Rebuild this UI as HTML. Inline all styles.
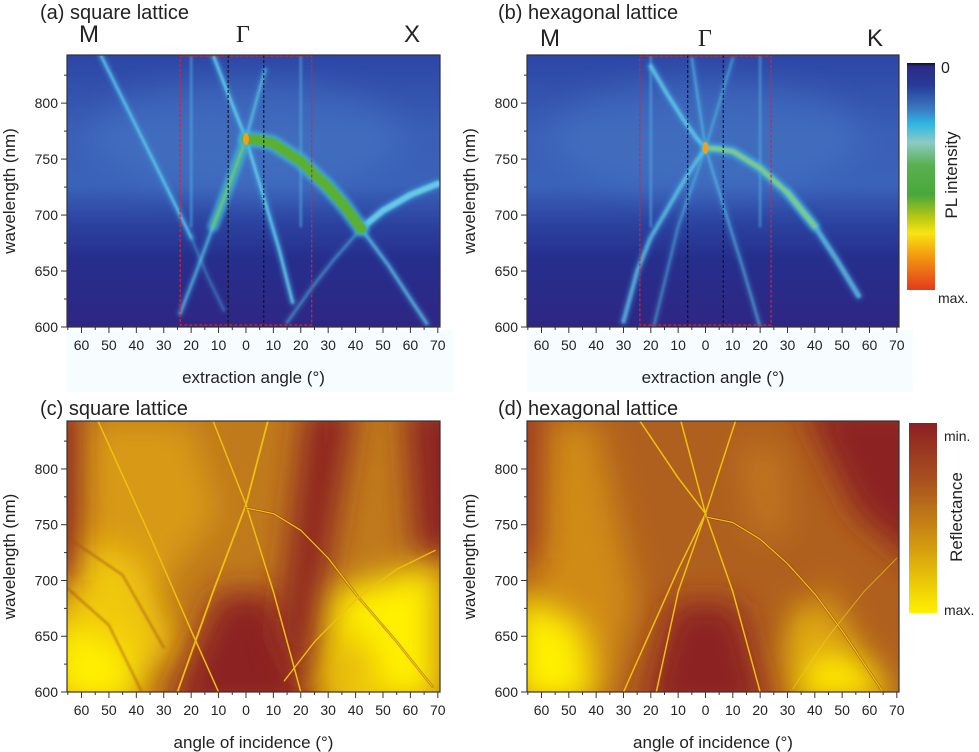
<!DOCTYPE html>
<html><head><meta charset="utf-8">
<style>
html,body{margin:0;padding:0;background:#fff;}
svg{display:block;font-family:"Liberation Sans",Arial,sans-serif;}
</style></head>
<body>
<svg id="fig" width="979" height="752" viewBox="0 0 979 752" xmlns="http://www.w3.org/2000/svg">
<defs>
  <filter id="blur8" filterUnits="userSpaceOnUse" x="0" y="0" width="979" height="752"><feGaussianBlur stdDeviation="16"/></filter>
  <filter id="blur3" filterUnits="userSpaceOnUse" x="0" y="0" width="979" height="752"><feGaussianBlur stdDeviation="2.2"/></filter>
  <filter id="blur1" filterUnits="userSpaceOnUse" x="0" y="0" width="979" height="752"><feGaussianBlur stdDeviation="1"/></filter>
  <linearGradient id="plbg" x1="0" y1="0" x2="0" y2="1">
    <stop offset="0" stop-color="#2d46a6"/>
    <stop offset="0.3" stop-color="#3a60b6"/>
    <stop offset="0.48" stop-color="#3a62b8"/>
    <stop offset="0.62" stop-color="#2c42a0"/>
    <stop offset="0.75" stop-color="#262e8c"/>
    <stop offset="1" stop-color="#2f2684"/>
  </linearGradient>
  <linearGradient id="plbar" x1="0" y1="0" x2="0" y2="1">
    <stop offset="0" stop-color="#111"/>
    <stop offset="0.015" stop-color="#2b2a86"/>
    <stop offset="0.1" stop-color="#263c98"/>
    <stop offset="0.2" stop-color="#3a78c0"/>
    <stop offset="0.27" stop-color="#2fb8e4"/>
    <stop offset="0.35" stop-color="#8ccac4"/>
    <stop offset="0.45" stop-color="#5ab050"/>
    <stop offset="0.58" stop-color="#48a83a"/>
    <stop offset="0.68" stop-color="#b8c814"/>
    <stop offset="0.75" stop-color="#f8e414"/>
    <stop offset="0.84" stop-color="#f4a010"/>
    <stop offset="1" stop-color="#e43a1c"/>
  </linearGradient>
  <linearGradient id="rbar" x1="0" y1="0" x2="0" y2="1">
    <stop offset="0" stop-color="#8c1f22"/>
    <stop offset="0.3" stop-color="#a8501f"/>
    <stop offset="0.65" stop-color="#d49a10"/>
    <stop offset="1" stop-color="#fff000"/>
  </linearGradient>
  <clipPath id="clipA"><rect x="67" y="55" width="373" height="272"/></clipPath>
  <clipPath id="clipB"><rect x="527" y="55" width="372" height="272"/></clipPath>
  <clipPath id="clipC"><rect x="67" y="421" width="373" height="271"/></clipPath>
  <clipPath id="clipD"><rect x="527" y="421" width="372" height="271"/></clipPath>
</defs>
<rect x="67" y="330" width="386" height="62" fill="#f7fcff"/>
<rect x="527" y="330" width="386" height="62" fill="#f7fcff"/>
<g id="layer"></g>
</svg>
<script>
// ---------- data (angle in degrees, wavelength in nm) ----------
const yTicks = [600, 650, 700, 750, 800];
const xTicks = [-60, -50, -40, -30, -20, -10, 0, 10, 20, 30, 40, 50, 60, 70];
const xTickLabels = ["60","50","40","30","20","10","0","10","20","30","40","50","60","70"];
const angleDomain = [-65.3, 70.8];
const nmDomain = [600, 843];

// panel (a) PL square lattice
const aMline_ang = [-53, -30, -20];
const aMline_nm = [843, 730, 680];
const aMfaint_ang = [-20, -14, -8];
const aMfaint_nm = [680, 645, 615];
const aDown_ang = [-12, -6, 0, 6, 12, 17];
const aDown_nm = [843, 805, 768, 720, 670, 622];
const aUp_ang = [7, 3, 0, -6, -12, -18, -24];
const aUp_nm = [830, 795, 768, 728, 690, 650, 612];
const aDome_ang = [0, 5, 10, 20, 30, 36, 42];
const aDome_nm = [768, 767, 764, 748, 725, 708, 688];
const aRise_ang = [42, 50, 60, 70];
const aRise_nm = [688, 704, 718, 728];
const aFallR_ang = [42, 52, 60, 66];
const aFallR_nm = [688, 655, 625, 603];
const aFallL_ang = [42, 32, 24, 15];
const aFallL_nm = [688, 660, 635, 604];

// panel (b) PL hexagonal lattice
const bUL_ang = [-20, -14, -8, -3, 0];
const bUL_nm = [833, 808, 785, 768, 760];
const bDome_ang = [0, 5, 10, 20, 30, 40, 48, 56];
const bDome_nm = [760, 759, 757, 742, 720, 690, 660, 628];
const bLL_ang = [0, -5, -10, -20, -25, -30];
const bLL_nm = [760, 742, 722, 680, 650, 605];
const bX1_ang = [-5, 0, 7, 14, 20];
const bX1_nm = [840, 760, 705, 650, 600];
const bX2_ang = [10, 0, -10, -19];
const bX2_nm = [840, 760, 690, 600];

// panel (c) reflectance square
const cMline_ang = [-54, -35, -20, -10];
const cMline_nm = [843, 740, 655, 600];
const cDown_ang = [-12, 0, 10, 20];
const cDown_nm = [843, 768, 690, 600];
const cUp_ang = [8, 0, -12, -25];
const cUp_nm = [843, 768, 690, 600];
const cDome_ang = [0, 10, 20, 30, 41, 55, 68];
const cDome_nm = [765, 760, 745, 720, 685, 645, 605];
const cRise_ang = [14, 25, 41, 55, 69];
const cRise_nm = [610, 645, 685, 710, 727];

// panel (d) reflectance hexagonal
const dA_ang = [-24, -10, 0, 10, 20];
const dA_nm = [843, 792, 760, 690, 600];
const dB_ang = [-9, 0, -10, -30];
const dB_nm = [843, 760, 710, 600];
const dC_ang = [11, 0, -10, -18];
const dC_nm = [843, 760, 690, 600];
const dDome_ang = [0, 10, 20, 30, 40, 50, 65];
const dDome_nm = [757, 752, 737, 715, 688, 655, 600];
const dRise_ang = [32, 45, 58, 70];
const dRise_nm = [603, 650, 690, 720];

// ---------- helpers ----------
const NS = "http://www.w3.org/2000/svg";
const layer = document.getElementById("layer");
function mk(tag, attrs, parent) {
  const e = document.createElementNS(NS, tag);
  for (const k in attrs) e.setAttribute(k, attrs[k]);
  (parent || layer).appendChild(e);
  return e;
}
function makeScales(left, top, w, h) {
  return {
    x: a => left + (a - angleDomain[0]) / (angleDomain[1] - angleDomain[0]) * w,
    y: n => top + (nmDomain[1] - n) / (nmDomain[1] - nmDomain[0]) * h,
    left, top, w, h
  };
}
function pts(s, angs, nms) {
  return angs.map((a, i) => s.x(a).toFixed(1) + "," + s.y(nms[i]).toFixed(1)).join(" ");
}
function band(g, s, angs, nms, color, width, blur, name, opacity) {
  const p = mk("polyline", {points: pts(s, angs, nms), fill: "none", stroke: color,
    "stroke-width": width, "stroke-linecap": "round", "stroke-linejoin": "round",
    opacity: opacity == null ? 1 : opacity}, g);
  if (blur) p.setAttribute("filter", "url(#" + blur + ")");
  
  
  return p;
}
function axes(s, xTitle, panelName) {
  const g = mk("g", {});
  
  
  mk("rect", {x: s.left, y: s.top, width: s.w, height: s.h, fill: "none", stroke: "#333", "stroke-width": 1.2}, g);
  for (let n = 600; n <= 843; n += 25) {
    const y = s.y(n);
    const major = yTicks.indexOf(n) >= 0;
    mk("line", {x1: s.left - (major ? 6 : 3), x2: s.left, y1: y, y2: y, stroke: "#333", "stroke-width": 1}, g);
  }
  yTicks.forEach(n => {
    const t = mk("text", {x: s.left - 9, y: s.y(n) + 5, "text-anchor": "end", "font-size": 14, fill: "#222"}, g);
    t.textContent = n;
    
    
  });
  for (let a = -65; a <= 70; a += 5) {
    const x = s.x(a);
    const major = a % 10 === 0;
    mk("line", {x1: x, x2: x, y1: s.top + s.h, y2: s.top + s.h + (major ? 6 : 3), stroke: "#333", "stroke-width": 1}, g);
  }
  xTicks.forEach((a, i) => {
    const t = mk("text", {x: s.x(a), y: s.top + s.h + 23, "text-anchor": "middle", "font-size": 14, fill: "#222"}, g);
    t.textContent = xTickLabels[i];
    
    
  });
  const xt = mk("text", {x: s.left + s.w / 2, y: s.top + s.h + 56, "text-anchor": "middle", "font-size": 17, fill: "#222"}, g);
  xt.textContent = xTitle;
  
  
  const yx = s.left - 52, yy = s.top + s.h / 2;
  const yt = mk("text", {x: yx, y: yy, "text-anchor": "middle", "font-size": 17, fill: "#222",
    transform: "rotate(-90 " + yx + " " + yy + ")"}, g);
  yt.textContent = "wavelength (nm)";
  
  
}
function label(x, y, txt, size, name, font) {
  const t = mk("text", {x: x, y: y, "font-size": size, fill: "#222"});
  if (font) t.setAttribute("font-family", font);
  t.textContent = txt;
  
  
  return t;
}

// ---------- PL panels ----------
function plPanel(s, clip, name) {
  const g = mk("g", {"clip-path": "url(#" + clip + ")"});
  
  
  mk("rect", {x: s.left, y: s.top, width: s.w, height: s.h, fill: "url(#plbg)"}, g);
  mk("ellipse", {cx: s.x(0), cy: s.y(770), rx: s.w * 0.42, ry: 55, fill: "#4a7cc8", opacity: 0.45, filter: "url(#blur8)"}, g);
  return g;
}
function bright(g, s, angs, nms, name, w, op) {
  const o = op == null ? 1 : op;
  band(g, s, angs, nms, "#3aa0dc", w + 4, "blur3", name + "-glow", 0.6 * o);
  band(g, s, angs, nms, "#70d4ee", w, "blur1", name, 0.85 * o);
}
function green(g, s, angs, nms, name, w) {
  band(g, s, angs, nms, "#40b8e0", w + 6, "blur3", name + "-glow", 0.8);
  band(g, s, angs, nms, "#5ab030", w, "blur1", name);
}
function frameLines(g, s) {
  const r = mk("rect", {x: s.x(-24), y: s.top + 1, width: s.x(24) - s.x(-24), height: s.h - 3,
    fill: "none", stroke: "#e02030", "stroke-width": 1.2, "stroke-dasharray": "3,2"}, g);
  
  
  [-6.5, 6.5].forEach(a => {
    const l = mk("line", {x1: s.x(a), x2: s.x(a), y1: s.top, y2: s.top + s.h, stroke: "#111", "stroke-width": 1.1, "stroke-dasharray": "3,2"}, g);
    
    
  });
}
function verticals(g, s) {
  [-20, 20].forEach(a => {
    band(g, s, [a, a], [843, 690], "#4fb0e4", 2.5, "blur1", "vertical-streak", 0.6);
  });
}

const sA = makeScales(67, 55, 373, 272);
const gA = plPanel(sA, "clipA", "panel-a");
verticals(gA, sA);
bright(gA, sA, aMline_ang, aMline_nm, "band-a-m-line", 2);
bright(gA, sA, aMfaint_ang, aMfaint_nm, "band-a-m-line-faint", 2, 0.35);
bright(gA, sA, aDown_ang, aDown_nm, "band-a-down", 2.5);
bright(gA, sA, aFallR_ang, aFallR_nm, "band-a-fall-right", 3, 0.7);
bright(gA, sA, aFallL_ang, aFallL_nm, "band-a-fall-left", 2, 0.5);
bright(gA, sA, aRise_ang, aRise_nm, "band-a-rise", 6);
green(gA, sA, aUp_ang.slice(2, 5), aUp_nm.slice(2, 5), "band-a-up-green", 5);
bright(gA, sA, aUp_ang, aUp_nm, "band-a-up", 2.5, 0.7);
green(gA, sA, aDome_ang, aDome_nm, "band-a-dome", 10);
mk("ellipse", {cx: sA.x(0), cy: sA.y(768), rx: 3, ry: 6, fill: "#f0a020"}, gA);
mk("ellipse", {cx: sA.x(42), cy: sA.y(688), rx: 5, ry: 4, fill: "#5ab030"}, gA);
frameLines(gA, sA);
axes(sA, "extraction angle (°)", "panel-a");

const sB = makeScales(527, 55, 372, 272);
const gB = plPanel(sB, "clipB", "panel-b");
verticals(gB, sB);
bright(gB, sB, bX1_ang, bX1_nm, "band-b-x1", 2, 0.6);
bright(gB, sB, bX2_ang, bX2_nm, "band-b-x2", 2, 0.5);
bright(gB, sB, bUL_ang, bUL_nm, "band-b-upper-left", 4, 0.8);
bright(gB, sB, bLL_ang, bLL_nm, "band-b-lower-left", 4, 0.7);
bright(gB, sB, bDome_ang.slice(4), bDome_nm.slice(4), "band-b-dome-tail", 5, 0.7);
band(gB, sB, bDome_ang.slice(0, 6), bDome_nm.slice(0, 6), "#40b0e0", 10, "blur3", "band-b-dome-glow", 0.8);
band(gB, sB, bDome_ang.slice(0, 6), bDome_nm.slice(0, 6), "#7cc890", 5, "blur1", "band-b-dome");
mk("ellipse", {cx: sB.x(0), cy: sB.y(760), rx: 3, ry: 6, fill: "#f0a020"}, gB);
frameLines(gB, sB);
axes(sB, "extraction angle (°)", "panel-b");

// ---------- reflectance panels ----------
function poly(g, s, angs, nms, color, name, blur, op) {
  const p = mk("polygon", {points: pts(s, angs, nms), fill: color, opacity: op == null ? 1 : op}, g);
  if (blur) p.setAttribute("filter", "url(#" + blur + ")");
  
  
}
const sC = makeScales(67, 421, 373, 271);
const gC = mk("g", {"clip-path": "url(#clipC)"});


mk("rect", {x: 67, y: 421, width: 373, height: 271, fill: "#c07a1c"}, gC);
poly(gC, sC, [-58, -20, -10, -45, -62], [843, 843, 760, 650, 700], "#d89a12", "region-c-left-upper", "blur8");
poly(gC, sC, [-66, -40, -25, -45, -66], [740, 720, 640, 600, 600], "#f0c80a", "region-c-left-yellow", "blur8");
poly(gC, sC, [-70, -45, -38, -70], [670, 640, 590, 590], "#fff000", "region-c-left-bright", "blur8");
poly(gC, sC, [-80, -62, -62, -80], [860, 860, 700, 700], "#8c2020", "region-c-left-edge", "blur8");
poly(gC, sC, [-30, -10, 10, 25, 18, -25], [580, 690, 690, 580, 580, 580], "#8c2222", "region-c-center-dark", "blur8");
poly(gC, sC, [22, 40, 22, 12], [860, 860, 600, 650], "#8c2222", "region-c-right-diag", "blur8");
poly(gC, sC, [58, 85, 85, 62], [860, 860, 720, 720], "#8c2020", "region-c-right-edge", "blur8");
poly(gC, sC, [32, 70, 70, 30], [690, 715, 590, 590], "#fff000", "region-c-right-yellow", "blur8");
poly(gC, sC, [25, 50, 40], [600, 600, 660], "#e0a810", "region-c-right-mid", "blur8", 0.8);
const cCol = "#f0c010";
band(gC, sC, cMline_ang, cMline_nm, cCol, 1.5, null, "band-c-m-line");
band(gC, sC, cDown_ang, cDown_nm, cCol, 1.5, null, "band-c-down");
band(gC, sC, cUp_ang, cUp_nm, cCol, 1.8, null, "band-c-up");
band(gC, sC, cDome_ang, cDome_nm, "#7a2410", 2.5, null, "band-c-dome-dark", 0.5);
band(gC, sC, cDome_ang, cDome_nm, cCol, 1.3, null, "band-c-dome");
band(gC, sC, cRise_ang, cRise_nm, cCol, 1.3, null, "band-c-rise");
band(gC, sC, [-66, -45, -30], [740, 705, 640], "#a05010", 2, "blur1", "band-c-arc-1", 0.6);
band(gC, sC, [-66, -50, -38], [695, 660, 600], "#a05010", 2, "blur1", "band-c-arc-2", 0.6);
axes(sC, "angle of incidence (°)", "panel-c");

const sD = makeScales(527, 421, 372, 271);
const gD = mk("g", {"clip-path": "url(#clipD)"});


mk("rect", {x: 527, y: 421, width: 372, height: 271, fill: "#b0601e"}, gD);
poly(gD, sD, [-58, -40, -25, -35, -66], [843, 843, 680, 600, 600], "#d08a18", "region-d-left", "blur8");
poly(gD, sD, [-70, -45, -40, -70], [690, 660, 590, 590], "#fff000", "region-d-left-yellow", "blur8");
poly(gD, sD, [-80, -62, -62, -80], [860, 860, 720, 720], "#962a20", "region-d-left-edge", "blur8", 0.8);
poly(gD, sD, [-22, -12, 12, 22, 18, -20], [590, 680, 680, 590, 580, 580], "#8c2222", "region-d-center-dark", "blur8");
poly(gD, sD, [35, 85, 85, 55], [860, 860, 700, 760], "#8c2222", "region-d-right-dark", "blur8");
poly(gD, sD, [12, 28, 30, 18], [820, 820, 740, 740], "#c88020", "region-d-mid-right", "blur8", 0.7);
poly(gD, sD, [35, 62, 68, 32], [680, 620, 590, 590], "#ffe800", "region-d-right-yellow", "blur8");
poly(gD, sD, [25, 45, 55], [620, 700, 640], "#d89a14", "region-d-right-mid", "blur8", 0.8);
band(gD, sD, dA_ang, dA_nm, cCol, 1.5, null, "band-d-a");
band(gD, sD, dB_ang, dB_nm, cCol, 1.5, null, "band-d-b");
band(gD, sD, dC_ang, dC_nm, cCol, 1.5, null, "band-d-c");
band(gD, sD, dDome_ang, dDome_nm, "#7a2410", 2.5, null, "band-d-dome-dark", 0.5);
band(gD, sD, dDome_ang, dDome_nm, cCol, 1.3, null, "band-d-dome");
band(gD, sD, dRise_ang, dRise_nm, "#f0d020", 1, null, "band-d-rise", 0.6);
axes(sD, "angle of incidence (°)", "panel-d");

// ---------- labels ----------
label(40, 19, "(a) square lattice", 20, "panel-a-title");
label(79, 42, "M", 24, "label-m-a");
label(236, 42, "Γ", 24, "label-gamma-a", "Liberation Serif");
label(404, 42, "X", 24, "label-x-a");
label(498, 19, "(b) hexagonal lattice", 20, "panel-b-title");
label(540, 46, "M", 24, "label-m-b");
label(698, 46, "Γ", 24, "label-gamma-b", "Liberation Serif");
label(867, 46, "K", 24, "label-k-b");
label(40, 415, "(c) square lattice", 20, "panel-c-title");
label(498, 415, "(d) hexagonal lattice", 20, "panel-d-title");

// ---------- colorbars ----------
const cb1 = mk("rect", {x: 907, y: 63, width: 28, height: 227, fill: "url(#plbar)"});


label(941, 73, "0", 16, "pl-colorbar-zero");
label(938, 303, "max.", 14, "pl-colorbar-max");
const pt = mk("text", {x: 957, y: 175, "text-anchor": "middle", "font-size": 17, fill: "#222", transform: "rotate(-90 957 175)"});
pt.textContent = "PL intensity";


const cb2 = mk("rect", {x: 909, y: 423, width: 28, height: 190, fill: "url(#rbar)"});


label(944, 441, "min.", 14, "reflectance-colorbar-min");
label(944, 615, "max.", 14, "reflectance-colorbar-max");
const rt = mk("text", {x: 962, y: 517, "text-anchor": "middle", "font-size": 17, fill: "#222", transform: "rotate(-90 962 517)"});
rt.textContent = "Reflectance";


</script>
</body></html>
